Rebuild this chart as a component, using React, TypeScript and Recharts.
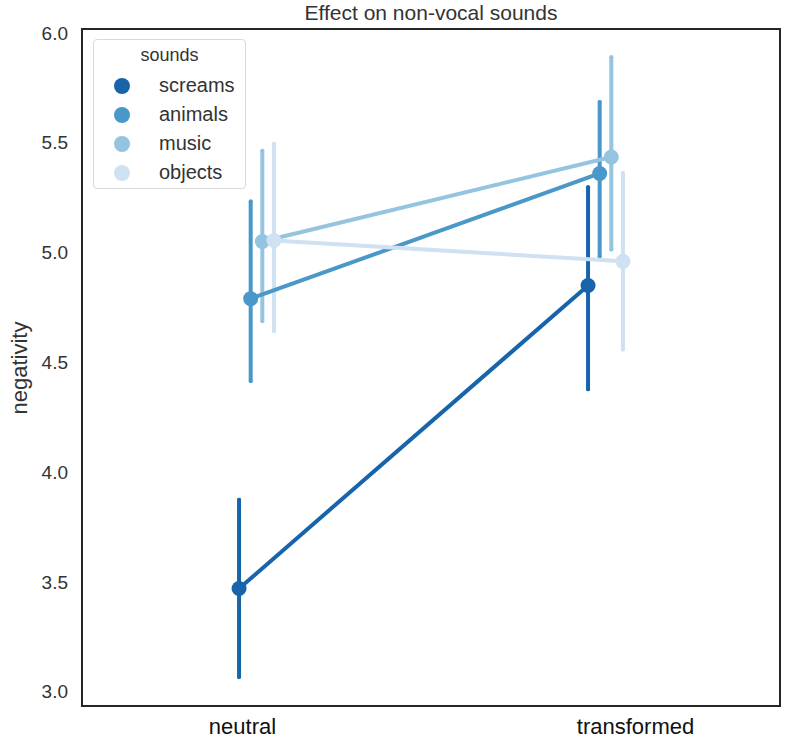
import React from 'react';
import { ComposedChart, Line, ErrorBar, XAxis, YAxis, ReferenceArea, Legend } from 'recharts';

// categories on the x axis and the hue levels
const groups = ['neutral', 'transformed'];
const sounds = ['screams', 'animals', 'music', 'objects'];
const colors = ['#1764ab', '#4a98c9', '#94c4df', '#cfe1f2'];

// mean negativity per sound, and the 95% CI ends
const neutralMean = [3.47, 4.79, 5.05, 5.055];
const neutralLow = [3.067, 4.415, 4.688, 4.642];
const neutralHigh = [3.874, 5.233, 5.464, 5.495];
const transformedMean = [4.85, 5.36, 5.435, 4.96];
const transformedLow = [4.377, 4.983, 5.014, 4.559];
const transformedHigh = [5.297, 5.685, 5.889, 5.362];

const yTicks = [3.0, 3.5, 4.0, 4.5, 5.0, 5.5, 6.0];
const yDomain: [number, number] = [2.935, 6.018];
const xDomain: [number, number] = [-0.5, 1.5];

const FONT = '"Liberation Sans", Arial, sans-serif';
const TEXT = '#333333';

// seaborn style dodge: spread hue levels over 0.025 * n around each category
const dodgeWidth = 0.025 * sounds.length;
const offsets = sounds.map((_, i) => (dodgeWidth * i) / (sounds.length - 1) - dodgeWidth / 2);

const seriesData = sounds.map((s, i) => [
    { x: 0 + offsets[i], y: neutralMean[i], err: [neutralMean[i] - neutralLow[i], neutralHigh[i] - neutralMean[i]] },
    { x: 1 + offsets[i], y: transformedMean[i], err: [transformedMean[i] - transformedLow[i], transformedHigh[i] - transformedMean[i]] },
]);

const XTick: React.FC<any> = ({ x, y, payload }) => {
    // the category labels sit a little off the group centres in the reference
    const shift = payload.value === 0 ? -14 : 30;
    return (
        <text x={x + shift} y={y} dy={28} textAnchor="middle" fill="#111" fontSize={22} fontFamily={FONT}>
            {groups[payload.value]}
        </text>
    );
};

// legend keeps the hue order (recharts would sort it by name)
const renderLegend = () => (
    <div style={{
        width: 153, height: 150, boxSizing: 'border-box', border: '1px solid #d9d9d9', borderRadius: 4,
        background: 'rgba(255,255,255,0.85)', fontFamily: FONT, color: TEXT,
    }}>
        <div style={{ height: 31, lineHeight: '31px', textAlign: 'center', fontSize: 18 }}>sounds</div>
        {sounds.map((s, i) => (
            <div key={s} style={{ position: 'relative', height: 29 }}>
                <svg width={18} height={18} style={{ position: 'absolute', left: 19, top: 5.5 }}>
                    <circle cx={9} cy={9} r={8} fill={colors[i]} />
                </svg>
                <span style={{ position: 'absolute', left: 65, top: 0, lineHeight: '29px', fontSize: 20 }}>{s}</span>
            </div>
        ))}
    </div>
);

const App: React.FC = () => {
    return (
        <div style={{ position: 'absolute', left: 0, top: 0, width: 789, height: 750, background: '#fff' }}>
            <div style={{
                position: 'absolute', left: 82, width: 698, top: 0, height: 26, lineHeight: '26px',
                textAlign: 'center', fontFamily: FONT, fontSize: 21, color: TEXT,
            }}>
                Effect on non-vocal sounds
            </div>
            <div style={{
                position: 'absolute', left: -40, top: 355, width: 120, height: 26, lineHeight: '26px',
                textAlign: 'center', transform: 'rotate(-90deg)', fontFamily: FONT, fontSize: 22, color: TEXT,
            }}>
                negativity
            </div>
            <ComposedChart width={789} height={750} margin={{ top: 29, right: 9, bottom: 0, left: 0 }}>
                <XAxis
                    type="number"
                    dataKey="x"
                    domain={xDomain}
                    allowDataOverflow
                    ticks={[0, 1]}
                    height={44}
                    axisLine={false}
                    tickLine={false}
                    tickSize={0}
                    tickMargin={0}
                    tick={<XTick />}
                />
                <YAxis
                    type="number"
                    domain={yDomain}
                    allowDataOverflow
                    ticks={yTicks}
                    width={82}
                    axisLine={false}
                    tickLine={false}
                    tickSize={0}
                    tickMargin={14}
                    tickFormatter={(v: number) => v.toFixed(1)}
                    tick={{ fill: TEXT, fontSize: 19, fontFamily: FONT }}
                />
                {/* confidence intervals first, so the lines sit on top */}
                {sounds.map((s, i) => (
                    <Line
                        key={'ci-' + s}
                        data={seriesData[i]}
                        dataKey="y"
                        stroke="none"
                        dot={false}
                        activeDot={false}
                        legendType="none"
                        isAnimationActive={false}
                    >
                        <ErrorBar dataKey="err" direction="y" width={0} stroke={colors[i]} strokeWidth={4}
                            strokeLinecap="round" isAnimationActive={false} />
                    </Line>
                ))}
                {sounds.map((s, i) => (
                    <Line
                        key={s}
                        name={s}
                        data={seriesData[i]}
                        dataKey="y"
                        type="linear"
                        stroke={colors[i]}
                        strokeWidth={4}
                        dot={{ r: 7.5, fill: colors[i], stroke: colors[i], strokeWidth: 0 }}
                        activeDot={false}
                        isAnimationActive={false}
                    />
                ))}
                <ReferenceArea x1={xDomain[0]} x2={xDomain[1]} y1={yDomain[0]} y2={yDomain[1]}
                    fill="none" stroke="#262626" strokeWidth={2} fillOpacity={0} ifOverflow="visible" />
                <Legend
                    layout="horizontal"
                    align="center"
                    verticalAlign="middle"
                    content={renderLegend}
                    wrapperStyle={{ left: 93, top: 39, width: 153, height: 150 }}
                />
            </ComposedChart>
        </div>
    );
};

export default App;
